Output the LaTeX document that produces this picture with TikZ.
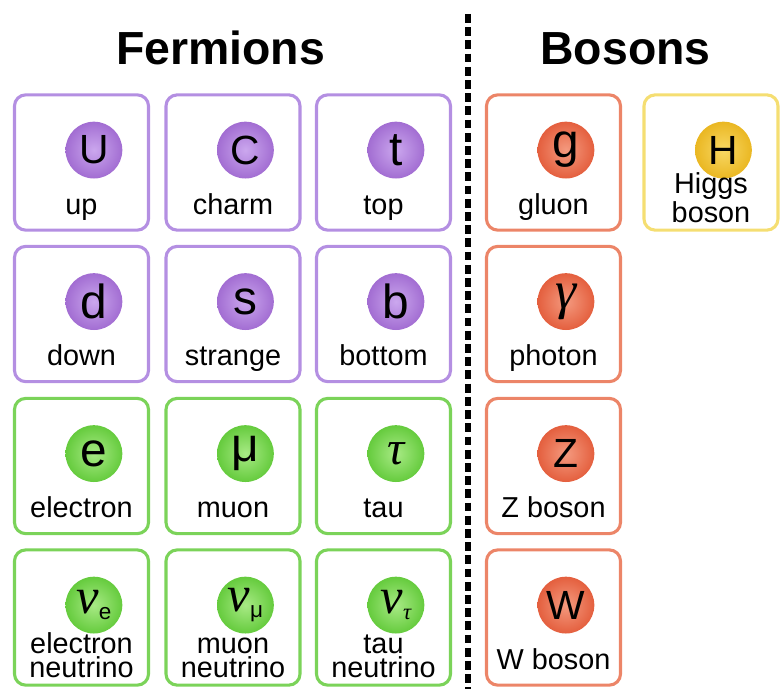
\documentclass[tikz,border=0pt]{standalone}
\usepackage{fontspec}
\setmainfont{Liberation Sans}
\newfontfamily\greekfont{Liberation Serif}
\definecolor{QuarkLine}{HTML}{B48FE2}
\definecolor{QuarkBall}{HTML}{A26DD2}
\definecolor{QuarkLight}{HTML}{CBA7EE}
\definecolor{LeptonLine}{HTML}{7BD359}
\definecolor{LeptonBall}{HTML}{65CB3D}
\definecolor{LeptonLight}{HTML}{A8EA85}
\definecolor{GaugeLine}{HTML}{EC8568}
\definecolor{GaugeBall}{HTML}{E45F3E}
\definecolor{GaugeLight}{HTML}{F49A7F}
\definecolor{HiggsLine}{HTML}{F5DE72}
\definecolor{HiggsBall}{HTML}{EAB722}
\definecolor{HiggsLight}{HTML}{F8D864}
\newcommand\nusym{{\fontsize{36}{36}\selectfont\greekfont\itshape ν}}
\newcommand\flav[1]{\raisebox{-0.3ex}{\fontsize{16}{16}\selectfont #1}}

\begin{document}
\begin{tikzpicture}[x=0.025cm, y=-0.025cm,
  cell/.style={draw=#1Line, line width=2.2pt, rounded corners=0.28cm,
    minimum width=3.35cm, minimum height=3.38cm, inner sep=0pt},
  ball/.style={circle, inner sep=0pt, minimum size=1.42cm,
    inner color=#1Light, outer color=#1Ball, xshift=0.31cm, yshift=0.31cm,
    font=\fontsize{29}{29}\selectfont},
  lower/.style={font=\fontsize{34}{34}\selectfont},
  greek/.style={font=\fontsize{#1}{#1}\selectfont\greekfont\itshape},
  pname/.style={anchor=base, yshift=-1.29cm, font=\fontsize{20.5}{20.5}\selectfont},
  pname2/.style={align=center, anchor=base, yshift=-1.49cm,
    font=\fontsize{20.5}{#1}\selectfont},
  title/.style={anchor=base, font=\fontsize{33}{33}\selectfont\bfseries}]

\useasboundingbox (0,0) rectangle (780,689);

\node[title] (fermions) at (220.5,65) {Fermions};
\node[title] (bosons) at (625.5,65) {Bosons};

\coordinate (divtop) at (468,14);
\coordinate (divbot) at (468,689);
\draw[line width=3.6pt, dash pattern=on 0.22cm off 0.11cm] (divtop) -- (divbot);

% quarks
\node[cell=Quark] (upbox) at (81.5,162.5) {};
\node[cell=Quark] (charmbox) at (233,162.5) {};
\node[cell=Quark] (topbox) at (383.5,162.5) {};
\node[cell=Quark] (downbox) at (81.5,314) {};
\node[cell=Quark] (strangebox) at (233,314) {};
\node[cell=Quark] (bottombox) at (383.5,314) {};

\node[ball=Quark] (u) at (upbox) {U};
\node[ball=Quark] (c) at (charmbox) {C};
\node[ball=Quark, lower] (t) at (topbox) {t};
\node[ball=Quark, lower] (d) at (downbox) {d};
\node[ball=Quark, lower] (s) at (strangebox) {s};
\node[ball=Quark, lower] (b) at (bottombox) {b};

\node[pname] (upname) at (upbox) {up};
\node[pname] (charmname) at (charmbox) {charm};
\node[pname] (topname) at (topbox) {top};
\node[pname] (downname) at (downbox) {down};
\node[pname] (strangename) at (strangebox) {strange};
\node[pname] (bottomname) at (bottombox) {bottom};

% leptons
\node[cell=Lepton] (elbox) at (81.5,466) {};
\node[cell=Lepton] (mubox) at (233,466) {};
\node[cell=Lepton] (taubox) at (383.5,466) {};
\node[cell=Lepton] (nuebox) at (81.5,617.5) {};
\node[cell=Lepton] (numubox) at (233,617.5) {};
\node[cell=Lepton] (nutaubox) at (383.5,617.5) {};

\node[ball=Lepton, lower] (e) at (elbox) {e};
\node[ball=Lepton, lower] (mu) at (mubox) {μ};
\node[ball=Lepton, greek=34] (tau) at (taubox) {τ};
\node[ball=Lepton] (nue) at (nuebox) {\nusym\flav{e}};
\node[ball=Lepton] (numu) at (numubox) {\nusym\flav{μ}};
\node[ball=Lepton] (nutau) at (nutaubox) {\nusym\flav{\greekfont\itshape τ}};

\node[pname] (elname) at (elbox) {electron};
\node[pname] (muname) at (mubox) {muon};
\node[pname] (tauname) at (taubox) {tau};
\node[pname2=17] (nuename) at (nuebox) {electron\\neutrino};
\node[pname2=17] (numuname) at (numubox) {muon\\neutrino};
\node[pname2=17] (nutauname) at (nutaubox) {tau\\neutrino};

% gauge bosons
\node[cell=Gauge] (gbox) at (553.5,162.5) {};
\node[cell=Gauge] (gammabox) at (553.5,314) {};
\node[cell=Gauge] (zbox) at (553.5,466) {};
\node[cell=Gauge] (wbox) at (553.5,617.5) {};

\node[ball=Gauge, lower] (g) at (gbox) {g};
\node[ball=Gauge, greek=38] (gamma) at (gammabox) {γ};
\node[ball=Gauge] (z) at (zbox) {Z};
\node[ball=Gauge] (w) at (wbox) {W};

\node[pname] (gname) at (gbox) {gluon};
\node[pname] (gammaname) at (gammabox) {photon};
\node[pname] (zname) at (zbox) {Z boson};
\node[pname] (wname) at (wbox) {W boson};

% higgs
\node[cell=Higgs] (hbox) at (711,162.5) {};
\node[ball=Higgs] (h) at (hbox) {H};
\node[pname2=17] (hname) at (hbox) {Higgs\\boson};

\end{tikzpicture}
\end{document}
